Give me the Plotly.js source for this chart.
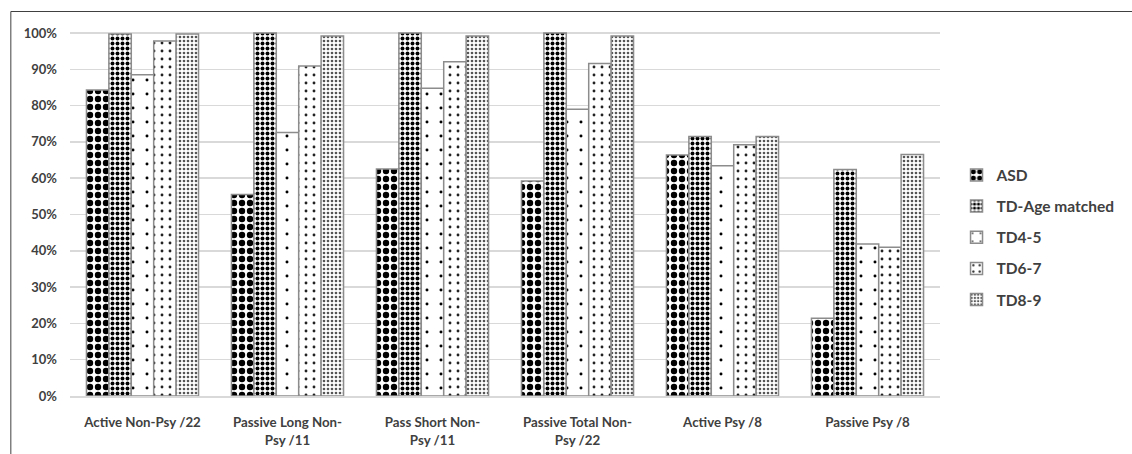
<!DOCTYPE html>
<html>
<head>
<meta charset="utf-8">
<script src="https://cdn.plot.ly/plotly-3.0.1.min.js"></script>
<style>
html,body{margin:0;padding:0;background:#fff;}
#chart{width:1132px;height:454px;}
</style>
</head>
<body>
<div id="chart"></div>
<script>
const categories = [
  "Active Non-Psy /22",
  "Passive Long Non-<br>Psy /11",
  "Pass Short Non-<br>Psy /11",
  "Passive Total Non-<br>Psy /22",
  "Active Psy /8",
  "Passive Psy /8"
];
const seriesNames = ["ASD", "TD-Age matched", "TD4-5", "TD6-7", "TD8-9"];
const asd      = [0.843, 0.555, 0.625, 0.592, 0.664, 0.214];
const tdAge    = [0.997, 1.000, 1.000, 1.000, 0.715, 0.624];
const td45     = [0.885, 0.726, 0.848, 0.790, 0.634, 0.419];
const td67     = [0.978, 0.909, 0.921, 0.916, 0.692, 0.410];
const td89     = [0.997, 0.992, 0.992, 0.992, 0.715, 0.665];
const seriesValues = [asd, tdAge, td45, td67, td89];
const yTickVals = [0,0.1,0.2,0.3,0.4,0.5,0.6,0.7,0.8,0.9,1.0];
const yTickText = ["0%","10%","20%","30%","40%","50%","60%","70%","80%","90%","100%"];

const patterns = [
  {shape: ".", bgcolor: "#ffffff", fgcolor: "#000000", size: 8, solidity: 0.5, fillmode: "replace"},
  {shape: ".", bgcolor: "#ffffff", fgcolor: "#000000", size: 5, solidity: 0.5, fillmode: "replace"},
  {shape: ".", bgcolor: "#ffffff", fgcolor: "#000000", size: 14, solidity: 0.035, fillmode: "replace"},
  {shape: ".", bgcolor: "#ffffff", fgcolor: "#222222", size: 8, solidity: 0.1, fillmode: "replace"},
  {shape: ".", bgcolor: "#ffffff", fgcolor: "#555555", size: 4, solidity: 0.35, fillmode: "replace"}
];

const traces = seriesNames.map((name, i) => ({
  type: "bar",
  name: name,
  x: categories,
  y: seriesValues[i],
  legendgroup: "g" + i,
  marker: {
    color: "#ffffff",
    pattern: patterns[i],
    line: {color: "#8c8c8c", width: 1.5}
  },
  hoverinfo: "none"
}));

const fontFam = "Lato, 'Open Sans', sans-serif";
const layout = {
  width: 1132,
  height: 454,
  margin: {l: 70, r: 165, t: 31, b: 58},
  paper_bgcolor: "#ffffff",
  plot_bgcolor: "#ffffff",
  barmode: "group",
  bargap: 0.227,
  bargroupgap: 0,
  showlegend: true,
  font: {family: fontFam, color: "#404040"},
  legend: {
    x: 1.019, y: 0.651, xanchor: "left", yanchor: "top",
    font: {family: fontFam, size: 15.5, color: "#404040", weight: "bold"},
    traceorder: "grouped",
    tracegroupgap: 8,
    itemwidth: 30,
    bgcolor: "rgba(0,0,0,0)"
  },
  xaxis: {
    type: "category",
    showgrid: false,
    zeroline: false,
    showline: true,
    linecolor: "#d9d9d9",
    linewidth: 1.5,
    ticks: "",
    ticklabelstandoff: 14,
    tickfont: {family: fontFam, size: 13.3, color: "#404040", weight: "bold"}
  },
  yaxis: {
    range: [0, 1.0055],
    tickvals: yTickVals,
    ticktext: yTickText,
    showgrid: true,
    gridcolor: "#d9d9d9",
    gridwidth: 1.5,
    zeroline: false,
    showline: false,
    ticks: "",
    ticklabelstandoff: 12,
    tickfont: {family: fontFam, size: 13, color: "#404040", weight: "bold"}
  },
  shapes: [{
    type: "rect", xref: "paper", yref: "paper",
    x0: -0.068, x1: 1.25, y0: -0.2, y1: 1.0534,
    line: {color: "#404040", width: 1},
    fillcolor: "rgba(0,0,0,0)",
    layer: "below"
  }]
};

Plotly.newPlot("chart", traces, layout, {displayModeBar: false, staticPlot: true});
</script>
</body>
</html>
